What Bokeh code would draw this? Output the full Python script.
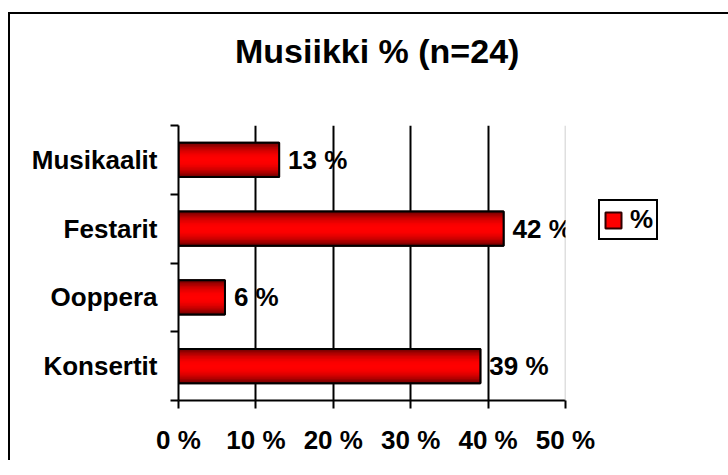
from bokeh.plotting import figure
from bokeh.models import (ColumnDataSource, Range1d, FixedTicker, LabelSet, Div,
                          Span, Legend, LegendItem)
from bokeh.layouts import column
from bokeh.core.properties import value
from bokeh.embed import file_html
from bokeh.resources import INLINE
import math

# ---- data ----
categories = ["Konsertit", "Ooppera", "Festarit", "Musikaalit"]   # bottom -> top
values = [39, 6, 42, 13]
series_name = "%"
x_ticks = [0, 10, 20, 30, 40, 50]
x_tick_labels = ["0 %", "10 %", "20 %", "30 %", "40 %", "50 %"]
title_text = "Musiikki % (n=24)"

FONT = "Liberation Sans"
FS = "26px"
TOTAL_W = 708

y_pos = [i + 0.5 for i in range(len(categories))]
src = ColumnDataSource(dict(y=y_pos, right=values, cat=categories,
                            lab=[f"{v} %" for v in values]))

title = Div(text=('<div style="width:420px;margin-left:220px;margin-top:15px;text-align:left;'
                  f'font-family:\'{FONT}\';font-weight:bold;font-size:34px;line-height:34px;'
                  f'color:black;white-space:nowrap;">{title_text}</div>'),
            width=TOTAL_W, height=60)

p = figure(frame_width=387, frame_height=275, output_backend="svg", toolbar_location=None,
           x_range=Range1d(x_ticks[0], x_ticks[-1]), y_range=Range1d(0, len(categories)),
           min_border_left=168, min_border_right=153, min_border_top=41, min_border_bottom=60)
p.outline_line_color = None
p.background_fill_color = "white"
p.border_fill_color = "white"

# grid
p.ygrid.visible = False
p.xgrid.ticker = FixedTicker(ticks=x_ticks[1:-1])
p.xgrid.grid_line_color = "black"
p.xgrid.grid_line_width = 2
p.add_layout(Span(location=x_ticks[-1], dimension="height", line_color="#c0c0c0", line_width=1.5))

# legend proxy renderer (drawn first, fully covered by the gradient layers)
lr = p.hbar(y="y", right="right", left=0, height=0.5, source=src,
            fill_color="#ff0000", line_color="#300000", line_width=2)

# gradient bars (layered)
N = 12
bar_h = 0.5
for k in range(N):
    t = k / (N - 1)
    r = int(105 + 150 * math.sin(t * math.pi / 2) ** 0.8)
    col = "#%02x0000" % min(r, 255)
    p.hbar(y="y", right="right", left=0, height=bar_h * (1 - k / N), source=src,
           fill_color=col, line_color=None)
p.hbar(y="y", right="right", left=0, height=bar_h, source=src,
       fill_color=None, line_color="black", line_width=2)

# bar labels
labels = LabelSet(x="right", y="y", text="lab", source=src, x_offset=9,
                  text_baseline="middle", text_font=value(FONT), text_font_style="bold",
                  text_font_size=FS, text_color="black")
p.add_layout(labels)

# x axis
xa = p.xaxis[0]
xa.ticker = FixedTicker(ticks=x_ticks)
xa.major_label_overrides = {t: l for t, l in zip(x_ticks, x_tick_labels)}
xa.axis_line_width = 2
xa.major_tick_line_width = 2
xa.major_tick_in = 0
xa.major_tick_out = 8
xa.minor_tick_line_color = None
xa.major_label_text_font = FONT
xa.major_label_text_font_style = "bold"
xa.major_label_text_font_size = FS
xa.major_label_text_color = "black"
xa.major_label_standoff = 16

# y axis
ya = p.yaxis[0]
ya.ticker = FixedTicker(ticks=y_pos, minor_ticks=list(range(len(categories) + 1)))
ya.major_label_overrides = {y: c for y, c in zip(y_pos, categories)}
ya.axis_line_width = 2
ya.major_tick_line_color = None
ya.major_tick_in = 0
ya.major_tick_out = 0
ya.minor_tick_line_color = "black"
ya.minor_tick_line_width = 2
ya.minor_tick_in = 0
ya.minor_tick_out = 8
ya.major_label_text_font = FONT
ya.major_label_text_font_style = "bold"
ya.major_label_text_font_size = FS
ya.major_label_text_color = "black"
ya.major_label_standoff = 13

# legend
legend = Legend(items=[LegendItem(label=series_name, renderers=[lr])],
                location=(33, 160), border_line_color="black", border_line_width=2,
                border_line_alpha=1.0,
                background_fill_color="white", background_fill_alpha=1,
                label_text_font=FONT, label_text_font_style="bold",
                label_text_font_size=FS, label_text_color="black",
                glyph_width=20, glyph_height=20, padding=3, margin=33,
                label_standoff=7, spacing=0)
p.add_layout(legend, "right")

layout = column(title, p, spacing=0)
layout.styles = {"border-left": "2px solid black", "border-top": "2px solid black",
                 "margin-top": "12px", "margin-left": "8px", "background": "white"}

open("out.html", "w").write(file_html(layout, INLINE))
